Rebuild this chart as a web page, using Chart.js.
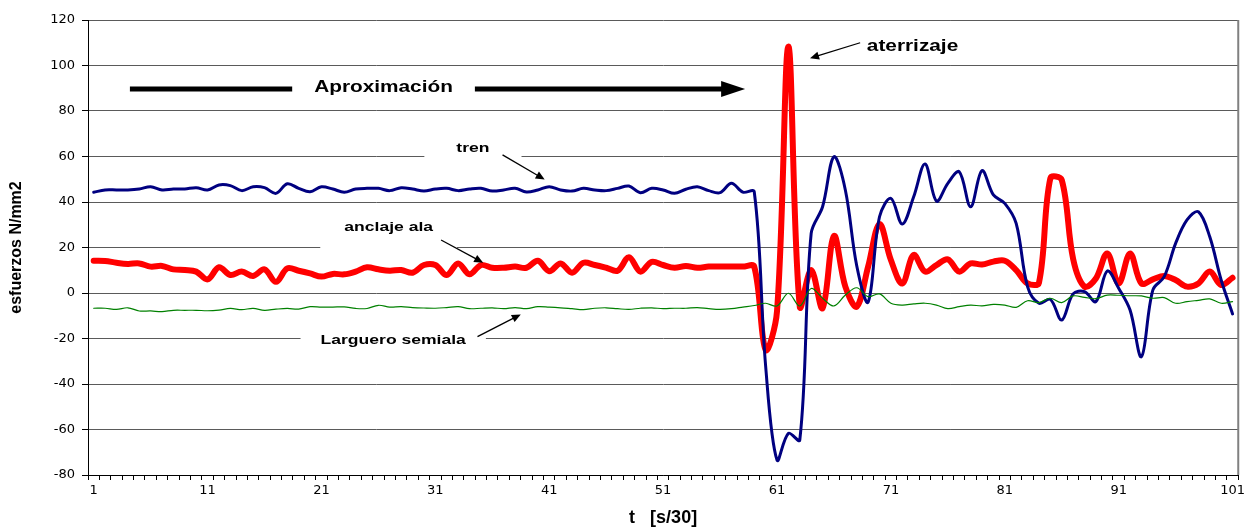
<!DOCTYPE html>
<html>
<head>
<meta charset="utf-8">
<script src="https://cdn.jsdelivr.net/npm/chart.js@4/dist/chart.umd.min.js"></script>
<style>
  html, body { margin: 0; padding: 0; background: #fff; }
  #chart { display: block; }
</style>
</head>
<body>
<canvas id="chart" width="1248" height="529"></canvas>
<script>
// samples 1..101, one every 1/30 s
const categories = Array.from({ length: 101 }, (_, i) => String(i + 1));
const labelEvery = 10;

const yMin = -80;
const yMax = 120;
const yStep = 20;

// tren (blue)
const tren = [
    44.3, 45.3, 45.3, 45.3, 45.7, 46.7, 45.3, 45.7, 45.7, 46.3,
    45.3, 47.5, 47.2, 45.0, 46.7, 46.3, 43.8, 48.0, 46.0, 44.5,
    46.7, 45.7, 44.3, 45.7, 46.0, 46.0, 45.0, 46.3, 45.7, 44.8,
    45.7, 46.0, 45.0, 45.7, 46.0, 44.8, 45.3, 46.0, 44.4, 45.3,
    46.7, 45.3, 44.8, 46.0, 45.3, 45.0, 46.0, 47.0, 44.1, 46.0,
    45.3, 43.8, 45.6, 46.7, 45.0, 44.1, 48.2, 44.3, 44.5, -32.0,
    -73.4, -61.7, -64.6, 26.2, 37.9, 59.9, 45.3, 12.0, -4.0, 33.5,
    41.6, 30.3, 42.3, 56.7, 40.4, 48.2, 53.3, 37.9, 53.8, 43.1,
    39.4, 30.6, 2.8, -4.5, -2.8, -11.9, -0.4, 0.6, -3.8, 9.7,
    2.1, -7.5, -28.0, 1.3, 7.2, 21.8, 32.1, 35.7, 24.7, 5.7, -9.2
];

// anclaje ala (red)
const anclajeAla = [
    14.2, 14.1, 13.3, 12.8, 13.0, 11.6, 11.9, 10.4, 10.1, 9.4,
    6.0, 11.3, 7.9, 9.4, 7.5, 10.4, 4.9, 10.8, 9.8, 8.6,
    7.2, 8.4, 8.2, 9.4, 11.3, 10.4, 9.8, 10.1, 8.9, 12.3,
    12.3, 7.9, 13.0, 8.2, 12.3, 11.1, 11.1, 11.6, 11.1, 14.2,
    9.6, 13.0, 8.9, 13.3, 12.3, 11.1, 9.8, 15.7, 9.4, 13.7,
    12.3, 11.1, 11.9, 11.1, 11.6, 11.6, 11.6, 11.6, 11.6, -25.0,
    -8.0, 108.3, -6.0, 10.1, -6.7, 25.1, 2.8, -6.0, 11.6, 30.3,
    14.5, 4.2, 16.7, 9.4, 12.3, 14.8, 9.4, 13.0, 12.5, 13.8,
    14.2, 10.1, 4.2, 4.5, 50.4, 49.7, 15.0, 2.8, 6.4, 17.4,
    4.2, 17.4, 4.2, 6.0, 7.5, 5.7, 2.8, 4.2, 9.4, 3.5, 6.7
];

// Larguero semiala (green)
const larguero = [
    -6.7, -6.7, -7.2, -6.5, -7.9, -7.9, -8.2, -7.6, -7.6, -7.6,
    -7.8, -7.5, -6.8, -7.3, -6.8, -7.6, -7.1, -6.8, -7.1, -6.0,
    -6.2, -6.2, -6.1, -6.8, -6.8, -5.4, -6.2, -6.0, -6.4, -6.6,
    -6.7, -6.4, -6.0, -6.9, -6.7, -6.5, -6.9, -6.4, -6.9, -6.0,
    -6.2, -6.5, -6.9, -7.3, -6.7, -6.5, -6.9, -7.2, -6.7, -6.5,
    -6.9, -6.7, -6.7, -6.4, -6.9, -7.2, -6.9, -6.2, -5.5, -4.5,
    -5.7, -0.1, -5.7, 2.0, -2.3, -5.7, -0.9, 2.3, -1.6, -0.4,
    -4.5, -5.3, -4.8, -4.5, -5.3, -6.9, -6.0, -5.3, -5.7, -5.0,
    -5.3, -6.3, -3.4, -4.2, -2.3, -4.2, -1.3, -1.9, -2.5, -0.9,
    -1.0, -1.2, -1.3, -2.3, -2.0, -4.5, -3.8, -3.2, -2.6, -4.5, -3.8
];

// annotation anchors in data space: ix = category index (0-based), v = value
const notes = [
    { text: "Aproximación", ix: 25.45, v: 90.4, size: 16, padX: 22, padY: 10 },
    { text: "tren", ix: 33.3, v: 63.7, size: 13.5, padX: 32, padY: 11 },
    { text: "anclaje ala", ix: 25.9, v: 29.0, size: 13.5, padX: 24, padY: 22 },
    { text: "Larguero semiala", ix: 26.3, v: -20.7, size: 13.5, padX: 20, padY: 11 },
    { text: "aterrizaje", ix: 71.9, v: 108.3, size: 16, padX: 0, padY: 0 },
];

const arrows = [
    { from: [3.18, 89.7], to: [57.2, 89.7], width: 5, head: 24, headW: 8, under: true },
    { from: [35.9, 60.7], to: [39.6, 49.9], width: 1.3, head: 9, headW: 4 },
    { from: [30.5, 23.3], to: [34.2, 13.3], width: 1.3, head: 9, headW: 4 },
    { from: [33.7, -19.2], to: [37.5, -9.4], width: 1.3, head: 9, headW: 4 },
    { from: [67.3, 110.0], to: [62.9, 103.2], width: 1.3, head: 9, headW: 4 },
];

const fontFamily = "'Liberation Sans', Arial, sans-serif";
const tickFamily = "'DejaVu Sans', sans-serif";
const textStretch = 1.3;

function drawArrow(ctx, x, y, a) {
    const x0 = x.getPixelForValue(a.from[0]);
    const y0 = y.getPixelForValue(a.from[1]);
    const x1 = x.getPixelForValue(a.to[0]);
    const y1 = y.getPixelForValue(a.to[1]);
    const ang = Math.atan2(y1 - y0, x1 - x0);
    const bx = x1 - Math.cos(ang) * a.head;
    const by = y1 - Math.sin(ang) * a.head;

    ctx.strokeStyle = "#000";
    ctx.fillStyle = "#000";
    ctx.lineWidth = a.width;
    ctx.beginPath();
    ctx.moveTo(x0, y0);
    ctx.lineTo(bx + Math.cos(ang) * 2, by + Math.sin(ang) * 2);
    ctx.stroke();

    ctx.beginPath();
    ctx.moveTo(x1, y1);
    ctx.lineTo(bx - Math.sin(ang) * a.headW, by + Math.cos(ang) * a.headW);
    ctx.lineTo(bx + Math.sin(ang) * a.headW, by - Math.cos(ang) * a.headW);
    ctx.closePath();
    ctx.fill();
}

const notesPlugin = {
    id: "notes",
    afterDatasetsDraw(chart) {
        const { ctx, chartArea, scales: { x, y } } = chart;
        ctx.save();

        // right edge of the plot area
        ctx.strokeStyle = "#808080";
        ctx.lineWidth = 2;
        ctx.beginPath();
        ctx.moveTo(chartArea.right, chartArea.top);
        ctx.lineTo(chartArea.right, chartArea.bottom);
        ctx.stroke();

        arrows.filter(a => a.under).forEach(a => drawArrow(ctx, x, y, a));

        // white boxes behind the labels
        notes.forEach(n => {
            ctx.font = "bold " + n.size + "px " + fontFamily;
            const w = ctx.measureText(n.text).width * textStretch;
            const cx = x.getPixelForValue(n.ix);
            const cy = y.getPixelForValue(n.v);
            if (n.padX || n.padY) {
                ctx.fillStyle = "#fff";
                ctx.fillRect(cx - w / 2 - n.padX, cy - n.padY, w + 2 * n.padX, 2 * n.padY);
            }
        });

        arrows.filter(a => !a.under).forEach(a => drawArrow(ctx, x, y, a));

        notes.forEach(n => {
            const cx = x.getPixelForValue(n.ix);
            const cy = y.getPixelForValue(n.v);
            ctx.save();
            ctx.font = "bold " + n.size + "px " + fontFamily;
            ctx.fillStyle = "#000";
            ctx.textAlign = "center";
            ctx.textBaseline = "middle";
            ctx.translate(cx, cy);
            ctx.scale(textStretch, 1);
            ctx.fillText(n.text, 0, 0);
            ctx.restore();
        });

        ctx.restore();
    },
};

const chartCanvas = document.getElementById("chart");

const esfuerzosChart = new Chart(chartCanvas, {
    type: "line",
    data: {
        labels: categories,
        datasets: [
            {
                label: "Larguero semiala",
                data: larguero,
                borderColor: "#008000",
                borderWidth: 1.2,
                order: 0,
            },
            {
                label: "tren",
                data: tren,
                borderColor: "#000080",
                borderWidth: 3,
                order: 1,
            },
            {
                label: "anclaje ala",
                data: anclajeAla,
                borderColor: "#ff0000",
                borderWidth: 6,
                order: 2,
            },
        ],
    },
    options: {
        responsive: false,
        animation: false,
        devicePixelRatio: 1,
        layout: {
            padding: { top: 20, right: 8, left: 0, bottom: 0 },
        },
        elements: {
            point: { radius: 0, hoverRadius: 0 },
            line: { tension: 0.35, fill: false, borderJoinStyle: "round", borderCapStyle: "round" },
        },
        scales: {
            x: {
                type: "category",
                offset: true,
                grid: {
                    offset: true,
                    drawOnChartArea: false,
                    tickLength: 5,
                    tickColor: "#000",
                },
                border: { color: "#000", width: 1 },
                ticks: {
                    autoSkip: false,
                    maxRotation: 0,
                    minRotation: 0,
                    padding: 3,
                    color: "#000",
                    font: { family: tickFamily, size: 13 },
                    callback: (value, index) => (index % labelEvery === 0 ? categories[index] : ""),
                },
                title: {
                    display: true,
                    text: "t   [s/30]",
                    color: "#000",
                    font: { family: fontFamily, size: 18, weight: "bold" },
                    padding: { top: 0, bottom: 0 },
                },
                afterFit(scale) {
                    scale.height = 54;
                },
            },
            y: {
                min: yMin,
                max: yMax,
                grid: {
                    color: "#5a5a5a",
                    lineWidth: 1,
                    tickLength: 6,
                    tickColor: "#000",
                },
                border: { color: "#000", width: 1 },
                ticks: {
                    stepSize: yStep,
                    padding: 7,
                    color: "#000",
                    font: { family: tickFamily, size: 13 },
                },
                title: {
                    display: true,
                    text: "esfuerzos N/mm2",
                    color: "#000",
                    font: { family: fontFamily, size: 16, weight: "bold" },
                    padding: { top: 7, bottom: 0 },
                },
                afterFit(scale) {
                    scale.width = 88;
                },
            },
        },
        plugins: {
            legend: { display: false },
            tooltip: { enabled: false },
        },
    },
    plugins: [notesPlugin],
});
</script>
</body>
</html>
